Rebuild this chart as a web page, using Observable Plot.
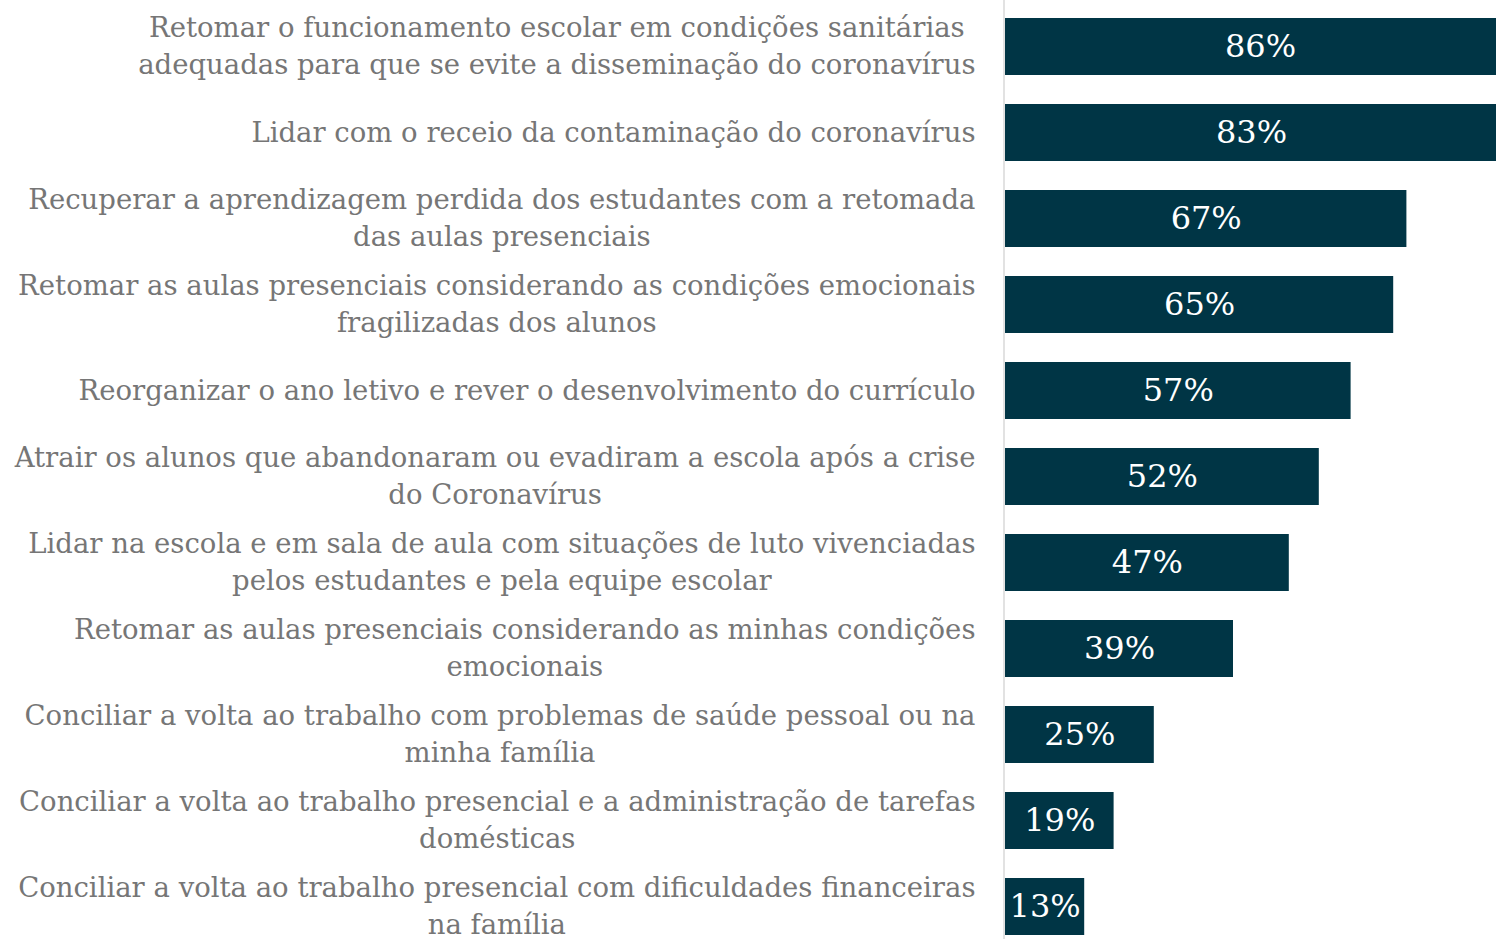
<!DOCTYPE html>
<html><head><meta charset="utf-8">
<script src="https://cdn.jsdelivr.net/npm/d3@7"></script>
<script src="https://cdn.jsdelivr.net/npm/@observablehq/plot@0.6"></script>
<style>html,body{margin:0;padding:0;background:#fff;overflow:hidden}</style>
</head><body><div id="chart"></div>
<script>
const categories = [
  "Retomar o funcionamento escolar em condições sanitárias\nadequadas para que se evite a disseminação do coronavírus",
  "Lidar com o receio da contaminação do coronavírus",
  "Recuperar a aprendizagem perdida dos estudantes com a retomada\ndas aulas presenciais",
  "Retomar as aulas presenciais considerando as condições emocionais\nfragilizadas dos alunos",
  "Reorganizar o ano letivo e rever o desenvolvimento do currículo",
  "Atrair os alunos que abandonaram ou evadiram a escola após a crise\ndo Coronavírus",
  "Lidar na escola e em sala de aula com situações de luto vivenciadas\npelos estudantes e pela equipe escolar",
  "Retomar as aulas presenciais considerando as minhas condições\nemocionais",
  "Conciliar a volta ao trabalho com problemas de saúde pessoal ou na\nminha família",
  "Conciliar a volta ao trabalho presencial e a administração de tarefas\ndomésticas",
  "Conciliar a volta ao trabalho presencial com dificuldades financeiras\nna família"
];
// bar lengths (percent)
const values = [85.0, 82.0, 66.9, 64.7, 57.6, 52.3, 47.3, 38.0, 24.8, 18.1, 13.2];
// value labels as printed on the bars
const valueLabels = ["86%", "83%", "67%", "65%", "57%", "52%", "47%", "39%", "25%", "19%", "13%"];

const FONT = '"DejaVu Serif", Georgia, serif';
const labelSize = 27.5;
const data = categories.map((c, i) => ({c, v: values[i], t: valueLabels[i]}));
const ctx = document.createElement("canvas").getContext("2d");
ctx.font = `${labelSize}px "DejaVu Serif"`;
const widths = categories.map(c => d3.max(c.split("\n"), l => ctx.measureText(l).width));

const chart = Plot.plot({
  width: 1496, height: 951.5,
  marginLeft: 1005, marginRight: 0, marginTop: 1.5, marginBottom: 0,
  x: {domain: [0, 491 / 6], axis: null},
  y: {domain: categories, axis: null, paddingInner: 0.332, paddingOuter: 0.166},
  style: {fontFamily: FONT, background: "#fff"},
  marks: [
    Plot.barX(data, {x: "v", y: "c", fill: "#003545", clip: true}),
    Plot.ruleX([0], {stroke: "#d9d9d9", strokeWidth: 1.5, dx: -1.5, insetTop: -1.5}),
    Plot.text(data, {x: d => d.v / 2, y: "c", text: "t", fill: "#fff", fontSize: 32}),
    Plot.text(data, {
      x: () => 0, y: "c", text: "c", textAnchor: "middle", lineHeight: 37 / labelSize,
      fill: "#767676", fontSize: labelSize, dy: -3,
      render: (index, scales, vals, dims, context, next) => {
        const X = new Float64Array(vals.x.length);
        for (const i of index) X[i] = dims.marginLeft - 30 - widths[i] / 2;
        return next(index, scales, {...vals, x: X}, dims, context);
      }
    })
  ]
});
document.getElementById("chart").append(chart);
</script>
</body></html>
